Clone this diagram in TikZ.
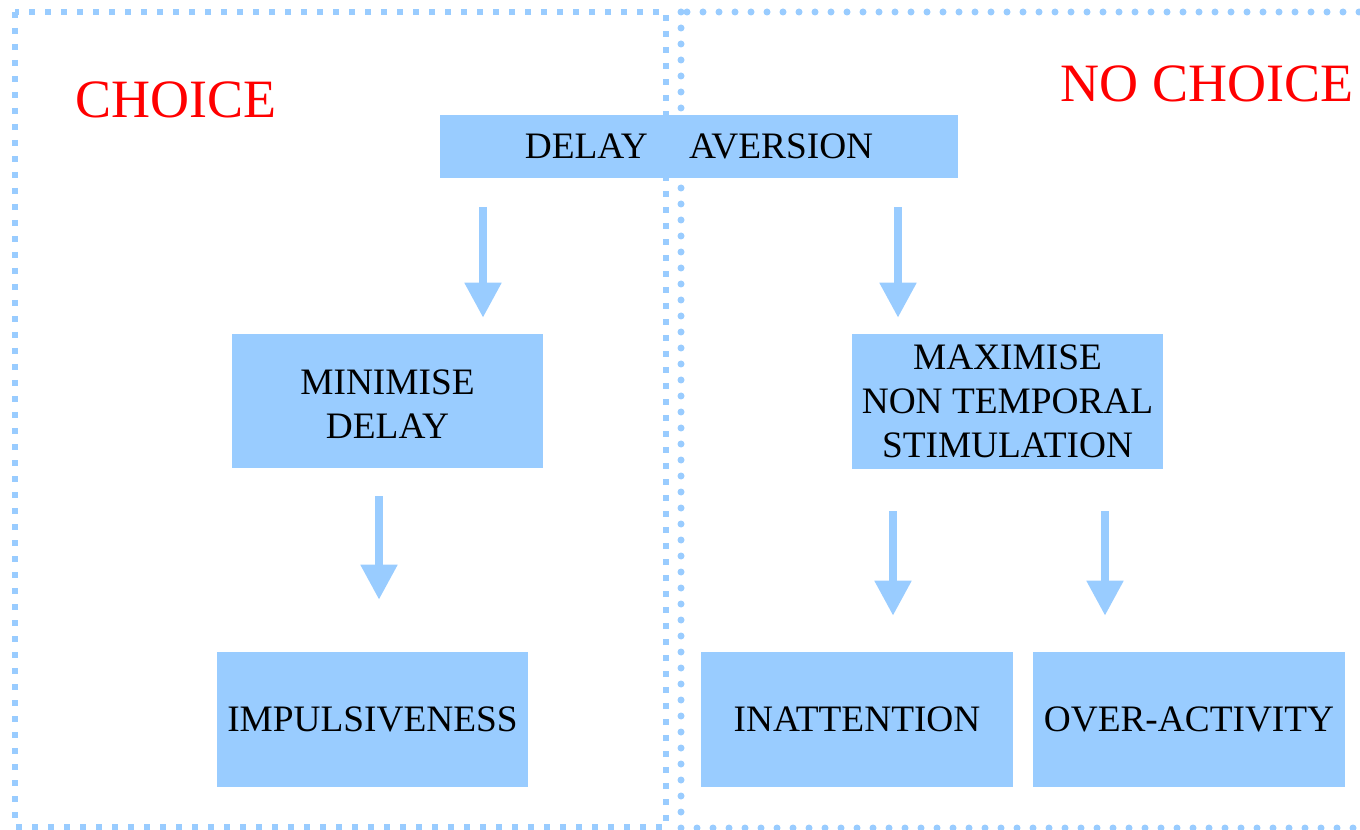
\documentclass[tikz,border=0pt]{standalone}
\usepackage{fontspec}
\setmainfont{Liberation Serif}
\usetikzlibrary{arrows.meta}
\definecolor{lb}{HTML}{99CCFF}
\definecolor{redt}{HTML}{FF0000}
\begin{document}
\begin{tikzpicture}[x=0.75pt,y=-0.75pt,
  box/.style={fill=lb, draw=none, inner sep=0pt, align=center,
              font=\fontsize{28}{33}\selectfont, text=black},
  arr/.style={draw=lb, line width=6pt, -{Triangle[length=26.25pt,width=26.25pt]}},
  sqdots/.style={draw=lb, line width=4.5pt, dash pattern=on 4.5pt off 7.5pt},
  rddots/.style={draw=lb, line width=5.25pt, line cap=round, dash pattern=on 0pt off 12pt},
  title/.style={text=redt, font=\fontsize{40.5}{48}\selectfont, anchor=base, inner sep=0pt}]
\useasboundingbox (0,0) rectangle (1360,830);
\begin{scope}
  \clip (0,0) rectangle (1360,830);
  \draw[sqdots] (15,12) rectangle (666,827);
  \draw[rddots] (681,12) rectangle (1380,828);
\end{scope}

\node[title] (choice) at (176,118) {CHOICE};
\node[title] (nochoice) at (1207,102) {NO CHOICE};

\node[box, minimum width=388.5pt, minimum height=47.25pt] (DA) at (699,146.5) {DELAY\hspace{31pt}AVERSION};
\node[box, minimum width=233.25pt, minimum height=100.5pt] (MD) at (387.5,401) {\raisebox{-5pt}[\height][\depth]{\begin{tabular}{@{}c@{}}MINIMISE\\DELAY\end{tabular}}};
\node[box, minimum width=233.25pt, minimum height=101.25pt] (IMP) at (372.5,719.5) {IMPULSIVENESS};
\node[box, minimum width=233.25pt, minimum height=101.25pt] (MAX) at (1007.5,401.5) {MAXIMISE\\NON TEMPORAL\\STIMULATION};
\node[box, minimum width=234pt, minimum height=101.25pt] (INA) at (857,719.5) {INATTENTION};
\node[box, minimum width=234pt, minimum height=101.25pt] (OVA) at (1189,719.5) {OVER-ACTIVITY};

\coordinate (x1) at (483,0);
\coordinate (x2) at (898,0);
\coordinate (x3) at (379,0);
\coordinate (x4) at (893,0);
\coordinate (x5) at (1105,0);

\draw[arr, shorten <=21.75pt, shorten >=12pt] (DA.south -| x1) -- (MD.north -| x1);
\draw[arr, shorten <=21.75pt, shorten >=12pt] (DA.south -| x2) -- (MAX.north -| x2);
\draw[arr, shorten <=21pt, shorten >=39pt] (MD.south -| x3) -- (IMP.north -| x3);
\draw[arr, shorten <=31.5pt, shorten >=27pt] (MAX.south -| x4) -- (INA.north -| x4);
\draw[arr, shorten <=31.5pt, shorten >=27pt] (MAX.south -| x5) -- (OVA.north -| x5);
\end{tikzpicture}
\end{document}
